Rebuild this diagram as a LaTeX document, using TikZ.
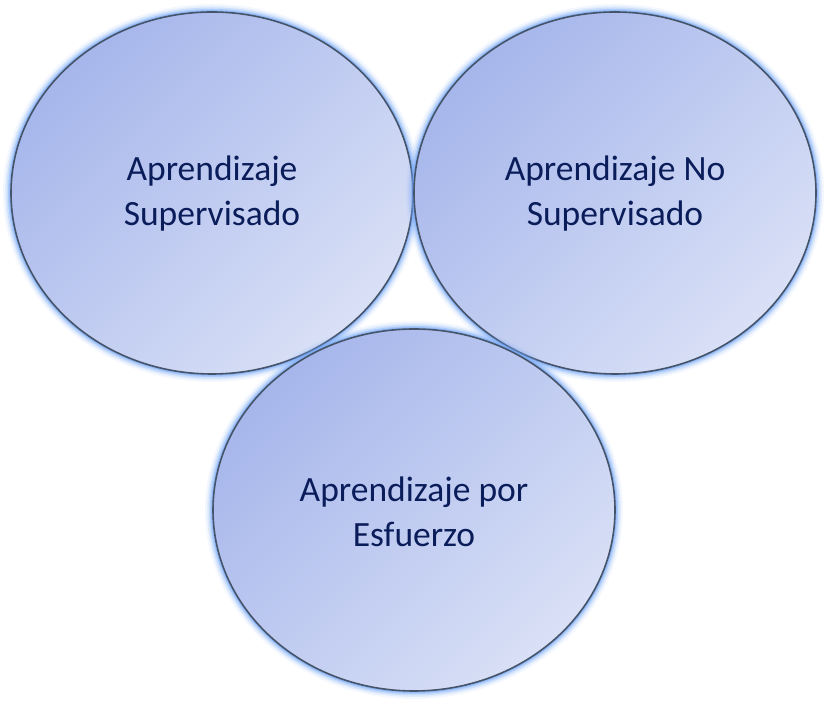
\documentclass[tikz,border=0pt]{standalone}
\usepackage{fontspec}
\setmainfont{Carlito}
\definecolor{txtc}{HTML}{0A1D5A}
\definecolor{edgec}{HTML}{46546A}
\definecolor{glowc}{HTML}{6FA3F5}
\definecolor{darkf}{HTML}{A6B6EB}
\definecolor{lightf}{HTML}{D9E0F6}
\tikzset{
  lbl/.style={text=txtc, font=\fontsize{35.5}{45}\selectfont, align=center},
}
\newcommand{\glowell}[2]{%
  \foreach \w/\o in {16/0.08,12/0.14,9/0.2,6/0.32,3.5/0.5}{
    \draw[glowc, line width=\w pt, opacity=\o] (#1,#2) ellipse [x radius=201pt, y radius=181pt];
  }
  \shade[top color=darkf, bottom color=lightf, shading angle=45] (#1,#2) ellipse [x radius=201pt, y radius=181pt];
  \draw[edgec, line width=1.6pt] (#1,#2) ellipse [x radius=201pt, y radius=181pt];
}
\begin{document}
\begin{tikzpicture}[x=1pt,y=1pt]
\useasboundingbox (0,0) rectangle (828,704);
\glowell{212}{511}
\glowell{615}{511}
\glowell{414}{194}
\node[lbl] (a) at (212,510) {Aprendizaje\\Supervisado};
\node[lbl] (b) at (615,510) {Aprendizaje No\\Supervisado};
\node[lbl] (c) at (414,192) {Aprendizaje por\\Esfuerzo};
\end{tikzpicture}
\end{document}
